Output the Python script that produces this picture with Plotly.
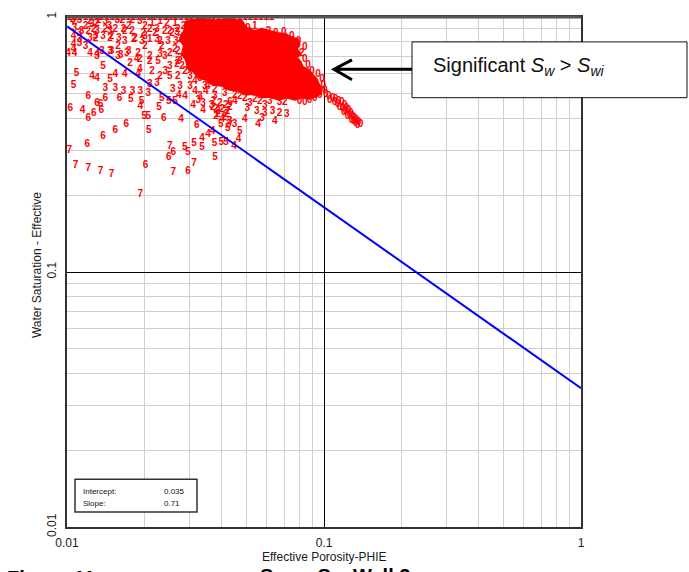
import plotly.graph_objects as go

# ---------------- data ----------------
# fitted line (Intercept 0.035, Slope 0.71) read at the two axis ends
fit_phi = [0.01, 1.0]
fit_sw = [0.92, 0.035]

# saturated (solid red) core of the point cloud
core_phi = [.0288, .0329, .0376, .0422, .0479, .0501, .0538, .0572, .0615, .0661, .0709, .0749, .0790, .0804,
            .0783, .0811, .0783, .0811, .0826, .0871, .0903, .0936, .0953, .0979, .0970, .0928, .0879, .0819,
            .0769, .0716, .0666, .0615, .0572, .0533, .0496, .0462, .0426, .0400, .0369, .0347, .0323, .0311,
            .0295, .0290, .0280, .0285, .0275, .0282]
core_sw = [.956, .982, .965, .982, .965, .906, .882, .898, .882, .866, .858, .828, .820, .778,
           .750, .717, .692, .667, .638, .621, .594, .572, .547, .523, .500, .487, .478, .483,
           .474, .483, .474, .487, .483, .500, .496, .514, .519, .538, .542, .567, .578, .610,
           .632, .679, .717, .771, .812, .874]

# sparse points (lower-left part of the cloud)
sparse_phi = [.0106, .0141, .0154, .0166, .0180, .0193, .0207, .0121, .0141, .0131, .0135, .0127, .0136, .0160,
              .0177, .0195, .0193, .0103, .0115, .0121, .0200, .0207, .0228, .0238, .0278, .0170, .0154, .0208,
              .0138, .0120, .0102, .0108, .0121, .0135, .0149, .0202, .0251, .0259, .0249, .0287, .0296, .0312,
              .0335, .0312, .0259, .0296, .0193, .0377, .0320, .0335, .0354, .0368, .0375, .0398, .0416, .0397,
              .0422, .0447, .0465, .0426, .0449, .0309, .0338, .0324, .0365, .0272, .0347, .0431, .0234, .0249]
sparse_sw = [.541, .525, .522, .512, .509, .509, .502, .487, .479, .458, .452, .417, .428, .477,
             .473, .466, .445, .438, .430, .401, .407, .409, .441, .401, .397, .380, .360, .359,
             .340, .317, .299, .262, .254, .248, .242, .261, .311, .295, .280, .308, .295, .319,
             .309, .267, .246, .248, .201, .282, .374, .333, .345, .357, .320, .323, .323, .378,
             .366, .311, .330, .380, .378, .448, .428, .470, .448, .494, .509, .462, .479, .466]
sparse_lab = ['5', '3', '3', '3', '3', '3', '3', '6', '6', '6', '6', '6', '6', '6',
              '5', '5', '4', '6', '4', '6', '5', '5', '5', '6', '4', '6', '6', '5',
              '6', '6', '7', '7', '7', '7', '7', '6', '7', '6', '6', '5', '5', '5',
              '5', '7', '7', '6', '7', '5', '6', '4', '4', '4', '5', '5', '5', '5',
              '5', '4', '4', '3', '3', '4', '4', '3', '3', '4', '4', '6', '5', '5']

# points just right of / below the fitted line
mid_phi = [.0503, .0548, .0588, .0630, .0672, .0717, .0554, .0430, .0470, .0338, .0369, .0387, .0402, .0417,
           .0380, .0409, .0402, .0574, .0643, .0514, .0492, .0372, .0393, .0415, .0387, .0422, .0430, .0380]
mid_sw = [.437, .425, .418, .425, .418, .414, .378, .389, .355, .458, .441, .425, .433, .414,
          .407, .403, .395, .399, .389, .458, .395, .466, .458, .449, .414, .425, .441, .433]
mid_lab = ['3', '3', '3', '3', '2', '3', '4', '3', '5', '3', '2', '2', '2', '2',
           '2', '2', '4', '3', '4', '3', '4', '2', '2', '2', '2', '2', '2', '2']

# upper-left part of the cloud
upper_phi = [.0107, .0125, .0131, .0157, .0164, .0179, .0192, .0214, .0230, .0245, .0263, .0293, .0320, .0344,
             .0370, .0419, .0514, .0112, .0121, .0131, .0141, .0147, .0154, .0168, .0179, .0198, .0210, .0224,
             .0256, .0268, .0293, .0106, .0112, .0123, .0129, .0138, .0147, .0184, .0196, .0210, .0224, .0275,
             .0301, .0106, .0101, .0131, .0147, .0158, .0171, .0189, .0210, .0230, .0251, .0275, .0309, .0338,
             .0329, .0138, .0192, .0210, .0226, .0251, .0268, .0301, .0192, .0189, .0251, .0230, .0270, .0329,
             .0353, .0109, .0125, .0131, .0154, .0168, .0147, .0210, .0224, .0258, .0275, .0329, .0329,
             .0105, .0112, .0123, .0133, .0107, .0114, .0127, .0146, .0166, .0174, .0182, .0159, .0129, .0106,
             .0112, .0107, .0131, .0137, .0149, .0162, .0174, .0187,
             .0201, .0220, .0234, .0247, .0263, .0284, .0240, .0288, .0270, .0296, .0241, .0288, .0315, .0344,
             .0201, .0214, .0301, .0315, .0376, .0288, .0263, .0470, .0538, .0615, .0703, .0804, .0879, .0588,
             .0450, .0459,
             .0118, .0141, .0149, .0168, .0118, .0123, .0176, .0158, .0201, .0230, .0251, .0240]
upper_sw = [.956, .931, .939, .973, .973, .973, .956, .939, .956, .939, .939, .956, .956, .939,
            .956, .956, .866, .858, .874, .874, .890, .874, .890, .874, .874, .858, .890, .890,
            .858, .866, .874, .835, .813, .820, .820, .835, .820, .820, .799, .813, .813, .813,
            .799, .743, .717, .698, .730, .698, .717, .717, .698, .711, .717, .686, .743, .730,
            .698, .638, .679, .667, .667, .638, .650, .626, .621, .594, .583, .583, .583, .621,
            .533, .599, .583, .573, .594, .594, .567, .543, .547, .519, .533, .573, .487,
            .982, .973, .956, .973, .898, .874, .890, .914, .890, .914, .813, .820, .835, .777,
            .784, .717, .711, .730, .730, .704, .730, .679,
            .914, .858, .764, .799, .743, .914, .874, .835, .667, .717, .610, .610, .655, .621,
            .764, .610, .533, .509, .487, .487, .466, .487, .474, .466, .462, .466, .470, .449,
            .466, .906,
            .922, .956, .835, .799, .764, .717, .655, .764, .835, .799, .874, .698]
upper_lab = ['2', '3', '2', '3', '2', '2', '3', '1', '1', '2', '1', '1', '1', '2',
             '3', '2', '0', '3', '2', '3', '2', '3', '2', '2', '2', '2', '2', '3',
             '2', '3', '2', '4', '3', '3', '2', '3', '2', '2', '3', '1', '3', '3',
             '2', '4', '4', '3', '3', '3', '3', '2', '2', '3', '2', '3', '2', '2',
             '3', '5', '2', '2', '5', '3', '2', '3', '4', '4', '5', '2', '2', '3',
             '4', '5', '4', '4', '4', '4', '5', '3', '3', '3', '3', '3', '3',
             '2', '3', '2', '2', '3', '3', '2', '3', '2', '2', '2', '3', '3', '4',
             '3', '4', '4', '3', '3', '3', '3', '4',
             '2', '2', '2', '3', '2', '2', '2', '3', '2', '2', '3', '2', '2', '3',
             '2', '2', '3', '4', '3', '4', '5', '2', '2', '3', '2', '0', '0', '3',
             '4', '0',
             '2', '3', '2', '3', '3', '4', '2', '2', '3', '2', '2', '3']

# ragged edge of the dense core
edge_phi = [.0301, .0329, .0360, .0393, .0438, .0480, .0505, .0538, .0574, .0609, .0649, .0697, .0749,
            .0796, .0842, .0819, .0841, .0866, .0898, .0948, .0983, .0993, .1006, .0962, .0920,
            .0344, .0376, .0411, .0450, .0492, .0301, .0280, .0270, .0265, .0270, .0314, .0562, .0672,
            .0841, .0755]
edge_sw = [.973, .922, .956, .906, .939, .914, .898, .922, .851, .874, .858, .866, .835,
           .799, .757, .717, .679, .643, .610, .593, .567, .537, .514, .491, .478,
           .533, .519, .500, .491, .478, .583, .638, .730, .799, .890, .557, .466, .462,
           .462, .799]
edge_lab = ['1', '1', '1', '1', '1', '1', '0', '1', '0', '2', '0', '0', '0',
            '0', '0', '2', '0', '0', '0', '0', '0', '0', '0', '0', '0',
            '3', '2', '3', '2', '2', '3', '2', '2', '3', '2', '4', '2', '3',
            '0', '0']

# tail of "0" points beyond PHIE = 0.1
tail_phi = [.1015, .1043, .1081, .1110, .1140, .1172, .1203, .1225, .1247, .1270, .1292, .1315, .1339,
            .1363, .1388, .1327, .1281, .1236, .1193, .1150, .1214, .1100,
            .1052, .1129, .1181, .1258, .1303, .1351]
tail_sw = [.496, .487, .478, .474, .466, .462, .449, .437, .429, .418, .407, .399, .392,
           .385, .378, .381, .392, .407, .421, .441, .425, .462,
           .470, .453, .437, .411, .389, .375]

# points sitting on Sw = 1 (clipped band along the top border)
top_phi = [.0102, .0107, .0112, .0118, .0124, .0130, .0136, .0143, .0150, .0157, .0165, .0173, .0181,
           .0190, .0199, .0209, .0219, .0230, .0241, .0253, .0265, .0278, .0292, .0306, .0321, .0337,
           .0353, .0370, .0388, .0407, .0427, .0448, .0470, .0493, .0517, .0542, .0568, .0596, .0625]
top_sw = [1.0] * len(top_phi)

x_ticks = [0.01, 0.1, 1]
x_ticktext = ['0.01', '0.1', '1']
minor_vals = [0.02, 0.03, 0.04, 0.05, 0.06, 0.07, 0.08, 0.09, 0.2, 0.3, 0.4, 0.5, 0.6, 0.7, 0.8, 0.9]

# ---------------- figure ----------------
RED = '#ff0000'
FONT = 'Liberation Sans, Arial, sans-serif'
fig = go.Figure()

fig.add_trace(go.Scatter(x=core_phi, y=core_sw, mode='lines', fill='toself', fillcolor=RED,
                         line=dict(color=RED, width=2), hoverinfo='skip', showlegend=False))


def text_trace(xs, ys, labs):
    return go.Scatter(x=xs, y=ys, mode='text', text=labs, cliponaxis=True,
                      textfont=dict(family=FONT, size=10, color=RED, weight='bold'),
                      hoverinfo='skip', showlegend=False)


fig.add_trace(text_trace(top_phi, top_sw, ['1'] * len(top_phi)))
fig.add_trace(text_trace(upper_phi, upper_sw, upper_lab))
fig.add_trace(text_trace(edge_phi, edge_sw, edge_lab))
fig.add_trace(text_trace(tail_phi, tail_sw, ['0'] * len(tail_phi)))
fig.add_trace(text_trace(mid_phi, mid_sw, mid_lab))
fig.add_trace(text_trace(sparse_phi, sparse_sw, sparse_lab))

fig.add_trace(go.Scatter(x=fit_phi, y=fit_sw, mode='lines', line=dict(color='#0000ff', width=2),
                         hoverinfo='skip', showlegend=False))

axis_common = dict(type='log', range=[-2, 0], tickvals=x_ticks, ticktext=x_ticktext,
                   showgrid=True, gridcolor='#000000', gridwidth=1,
                   minor=dict(tickvals=minor_vals, showgrid=True, gridcolor='#cfcfcf', gridwidth=1, ticks=''),
                   showline=True, linecolor='#333333', linewidth=1.5, mirror=True,
                   ticks='', tickfont=dict(family=FONT, size=12, color='#1a1a1a'),
                   zeroline=False)

fig.update_layout(
    width=689, height=572,
    margin=dict(l=67, r=108, t=15, b=45),
    paper_bgcolor='white', plot_bgcolor='white',
    xaxis=dict(**axis_common, ticklabelstandoff=4),
    yaxis=dict(**axis_common, tickangle=-90, ticklabelstandoff=4),
    showlegend=False,
)

# axis titles
fig.add_annotation(text='Effective Porosity-PHIE', xref='paper', yref='paper', x=0.5, y=(527 - 557) / 512,
                   showarrow=False, xanchor='center', yanchor='middle',
                   font=dict(family=FONT, size=12, color='#1a1a1a'))
fig.add_annotation(text='Water Saturation - Effective', xref='paper', yref='paper', x=(37 - 67) / 514,
                   y=(527 - 264) / 512, textangle=-90, showarrow=False, xanchor='center', yanchor='middle',
                   font=dict(family=FONT, size=12, color='#1a1a1a'))

# thicker top border
fig.add_shape(type='line', xref='paper', yref='paper', x0=0, x1=1, y0=1, y1=1,
              line=dict(color='#555555', width=3), layer='above')

# "Significant Sw > Swi" call-out
fig.add_shape(type='rect', xref='paper', yref='paper', x0=(412 - 67) / 514, x1=(687 - 67) / 514,
              y0=(527 - 96) / 512, y1=(527 - 40) / 512, fillcolor='white',
              line=dict(color='#111111', width=1), layer='above')
fig.add_annotation(text='Significant <i>S<sub>w</sub></i> &gt; <i>S<sub>wi</sub></i>', xref='paper', yref='paper',
                   x=(431 - 67) / 514, y=(527 - 65) / 512, xanchor='left', yanchor='middle',
                   showarrow=False, font=dict(family=FONT, size=20, color='#111111'))
ax_tip = (334 - 67) / 514
ax_tail = (412 - 67) / 514
ax_arm = (352 - 67) / 514
ay_mid = (527 - 67.5) / 512
ay_up = (527 - 58) / 512
ay_dn = (527 - 78) / 512
fig.add_shape(type='path', xref='paper', yref='paper',
              path=f'M {ax_tail},{ay_mid} L {ax_tip},{ay_mid} M {ax_arm},{ay_up} L {ax_tip},{ay_mid} L {ax_arm},{ay_dn}',
              line=dict(color='#000000', width=3), layer='above')

# statistics box
fig.add_shape(type='rect', xref='paper', yref='paper', x0=(75 - 67) / 514, x1=(197 - 67) / 514,
              y0=(527 - 512) / 512, y1=(527 - 479) / 512, fillcolor='white',
              line=dict(color='#333333', width=1.5), layer='above')
for label, value, py in [('Intercept:', '0.035', 491), ('Slope:', '0.71', 503)]:
    fig.add_annotation(text=label, xref='paper', yref='paper', x=(81 - 67) / 514, y=(527 - py) / 512,
                       xanchor='left', yanchor='middle', showarrow=False,
                       font=dict(family=FONT, size=8, color='#111111'))
    fig.add_annotation(text=value, xref='paper', yref='paper', x=(162 - 67) / 514, y=(527 - py) / 512,
                       xanchor='left', yanchor='middle', showarrow=False,
                       font=dict(family=FONT, size=8, color='#111111'))

# truncated figure caption at the bottom edge
fig.add_annotation(text='<b>Figure 11</b>', xref='paper', yref='paper', x=(5 - 67) / 514, y=(527 - 578) / 512,
                   xanchor='left', yanchor='middle', showarrow=False,
                   font=dict(family=FONT, size=20, color='#000000'))
fig.add_annotation(text='<b>S<sub>w</sub> vs S<sub>w</sub>  Well 2</b>', xref='paper', yref='paper',
                   x=(258 - 67) / 514, y=(527 - 578) / 512,
                   xanchor='left', yanchor='middle', showarrow=False,
                   font=dict(family=FONT, size=20, color='#000000'))

fig.write_html('out.html')
